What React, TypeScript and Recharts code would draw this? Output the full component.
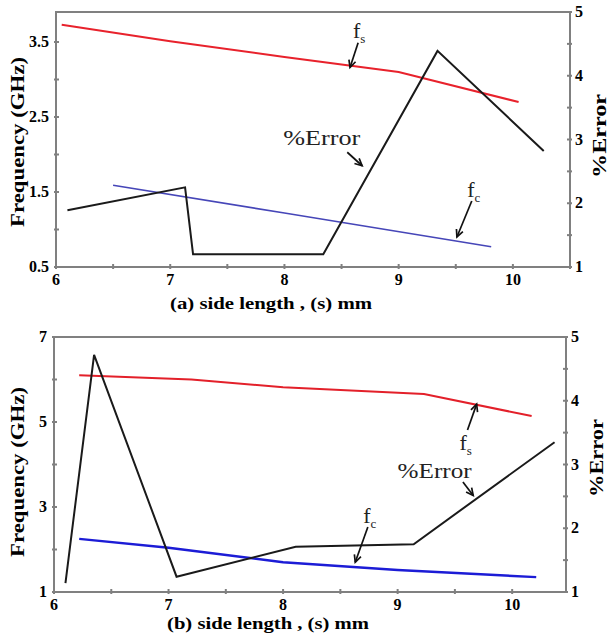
import { LineChart, Line, XAxis, YAxis, ReferenceLine } from "recharts";

// ---- panel (a) ----
const fsA = [
  { x: 6.05, y: 3.73 },
  { x: 7, y: 3.51 },
  { x: 8, y: 3.3 },
  { x: 9, y: 3.1 },
  { x: 10.05, y: 2.7 },
];
const fcA = [
  { x: 6.5, y: 1.59 },
  { x: 8, y: 1.22 },
  { x: 9.81, y: 0.77 },
];
const errA = [
  { x: 6.1, y: 1.89 },
  { x: 7.13, y: 2.25 },
  { x: 7.2, y: 1.2 },
  { x: 8.34, y: 1.2 },
  { x: 9.34, y: 4.39 },
  { x: 10.27, y: 2.82 },
];
const xTicksA = [6, 6.5, 7, 7.5, 8, 8.5, 9, 9.5, 10, 10.5];
const leftTicksA = [0.5, 1, 1.5, 2, 2.5, 3, 3.5];
const leftLabelsA = [0.5, 1.5, 2.5, 3.5];

// ---- panel (b) ----
const fsB = [
  { x: 6.22, y: 6.1 },
  { x: 7.2, y: 6.0 },
  { x: 8, y: 5.82 },
  { x: 9.23, y: 5.66 },
  { x: 10.17, y: 5.14 },
];
const fcB = [
  { x: 6.22, y: 2.25 },
  { x: 7, y: 2.04 },
  { x: 8, y: 1.7 },
  { x: 9, y: 1.52 },
  { x: 10.21, y: 1.35 },
];
const errB = [
  { x: 6.1, y: 1.14 },
  { x: 6.35, y: 4.72 },
  { x: 7.07, y: 1.24 },
  { x: 8.11, y: 1.71 },
  { x: 9.14, y: 1.75 },
  { x: 10.37, y: 3.35 },
];
const xTicksB = [6, 6.5, 7, 7.5, 8, 8.5, 9, 9.5, 10];
const leftTicksB = [1, 2, 3, 4, 5, 6, 7];
const leftLabelsB = [1, 3, 5, 7];

const xLabels = [6, 7, 8, 9, 10];
const rightTicks = [1, 1.5, 2, 2.5, 3, 3.5, 4, 4.5, 5];
const rightLabels = [1, 2, 3, 4, 5];

// tick mark drawn inward + bold label
const makeTick = (side: string, labels: number[]) => (props: any) => {
  const { x, y, payload } = props;
  const txt = labels.includes(payload.value) ? String(payload.value) : "";
  let d = `M${x},${y}H${x - 5}`;
  let tx = x + 3;
  let ty = y + 5;
  let anchor = "start";
  if (side === "bottom") {
    d = `M${x},${y}V${y - 5}`;
    tx = x;
    ty = y + 16;
    anchor = "middle";
  } else if (side === "left") {
    d = `M${x},${y}H${x + 5}`;
    tx = x - 5;
    anchor = "end";
  }
  return (
    <g>
      <path d={d} stroke="#808080" strokeWidth={2} fill="none" />
      <text x={tx} y={ty} textAnchor={anchor} fontFamily="Liberation Serif, serif" fontWeight="bold" fontSize={16} fill="#000">
        {txt}
      </text>
    </g>
  );
};

// plot frame drawn from the two corners of the data window
const Box = (props: any) => {
  const { x1, y1, x2, y2 } = props;
  return (
    <rect
      x={Math.min(x1, x2)}
      y={Math.min(y1, y2)}
      width={Math.abs(x2 - x1)}
      height={Math.abs(y2 - y1)}
      fill="none"
      stroke="#808080"
      strokeWidth={2}
    />
  );
};

const Arrow = (props: any) => {
  const { x1, y1, x2, y2 } = props;
  const a = Math.atan2(y2 - y1, x2 - x1);
  const h = 8;
  const p1 = `${x2 - h * Math.cos(a - 0.45)},${y2 - h * Math.sin(a - 0.45)}`;
  const p2 = `${x2 - h * Math.cos(a + 0.45)},${y2 - h * Math.sin(a + 0.45)}`;
  return (
    <g stroke="#111" strokeWidth={1.7} fill="none">
      <line x1={x1} y1={y1} x2={x2} y2={y2} />
      <polyline points={`${p1} ${x2},${y2} ${p2}`} />
    </g>
  );
};

// annotation text anchored at the segment start point
const note = (text: string, sub?: string, len?: number) => (props: any) => (
  <text
    x={props.x1}
    y={props.y1}
    fontFamily="Liberation Serif, serif"
    fontSize={22}
    fill="#222"
    textLength={len}
    lengthAdjust={len ? "spacingAndGlyphs" : undefined}
  >
    {text}
    {sub && (
      <tspan dy={5} fontSize={13}>
        {sub}
      </tspan>
    )}
  </text>
);

const PanelA = () => (
  <LineChart width={610} height={320} margin={{ top: 12, right: 0, bottom: 10, left: 0 }}>
    <XAxis dataKey="x" type="number" domain={[6, 10.5]} ticks={xTicksA} tick={makeTick("bottom", xLabels)} tickSize={0} height={43} stroke="#808080" />
    <YAxis yAxisId="left" type="number" domain={[0.5, 3.9]} ticks={leftTicksA} tick={makeTick("left", leftLabelsA)} tickSize={0} width={56} stroke="#808080" />
    <YAxis yAxisId="right" orientation="right" type="number" domain={[1, 5]} ticks={rightTicks} tick={makeTick("right", rightLabels)} tickSize={0} width={40} stroke="#808080" />
    <ReferenceLine yAxisId="left" segment={[{ x: 6, y: 0.5 }, { x: 10.5, y: 3.9 }]} shape={Box} />
    <Line yAxisId="left" data={fsA} dataKey="y" type="linear" stroke="#e8222c" strokeWidth={2} dot={false} isAnimationActive={false} />
    <Line yAxisId="left" data={fcA} dataKey="y" type="linear" stroke="#4646b8" strokeWidth={1.6} dot={false} isAnimationActive={false} />
    <Line yAxisId="right" data={errA} dataKey="y" type="linear" stroke="#1a1a1a" strokeWidth={2} dot={false} isAnimationActive={false} />

    <ReferenceLine yAxisId="left" segment={[{ x: 8.6, y: 3.55 }, { x: 8.6, y: 3.55 }]} shape={note("f", "s")} />
    <ReferenceLine yAxisId="left" segment={[{ x: 8.645, y: 3.49 }, { x: 8.574, y: 3.16 }]} shape={Arrow} />
    <ReferenceLine yAxisId="left" segment={[{ x: 7.99, y: 2.13 }, { x: 7.99, y: 2.13 }]} shape={note("%Error", undefined, 77)} />
    <ReferenceLine yAxisId="left" segment={[{ x: 8.55, y: 2.03 }, { x: 8.68, y: 1.85 }]} shape={Arrow} />
    <ReferenceLine yAxisId="left" segment={[{ x: 9.6, y: 1.43 }, { x: 9.6, y: 1.43 }]} shape={note("f", "c")} />
    <ReferenceLine yAxisId="left" segment={[{ x: 9.64, y: 1.38 }, { x: 9.51, y: 0.9 }]} shape={Arrow} />
  </LineChart>
);

const PanelB = () => (
  <LineChart width={610} height={323} margin={{ top: 27, right: 0, bottom: 0, left: 0 }}>
    <XAxis dataKey="x" type="number" domain={[6, 10.47]} ticks={xTicksB} tick={makeTick("bottom", xLabels)} tickSize={0} height={41} stroke="#808080" />
    <YAxis yAxisId="left" type="number" domain={[1, 7]} ticks={leftTicksB} tick={makeTick("left", leftLabelsB)} tickSize={0} width={54} stroke="#808080" />
    <YAxis yAxisId="right" orientation="right" type="number" domain={[1, 5]} ticks={rightTicks} tick={makeTick("right", rightLabels)} tickSize={0} width={44} stroke="#808080" />
    <ReferenceLine yAxisId="left" segment={[{ x: 6, y: 1 }, { x: 10.47, y: 7 }]} shape={Box} />
    <Line yAxisId="left" data={fsB} dataKey="y" type="linear" stroke="#e3202a" strokeWidth={2} dot={false} isAnimationActive={false} />
    <Line yAxisId="left" data={fcB} dataKey="y" type="linear" stroke="#1c1cd6" strokeWidth={2.5} dot={false} isAnimationActive={false} />
    <Line yAxisId="right" data={errB} dataKey="y" type="linear" stroke="#1a1a1a" strokeWidth={2} dot={false} isAnimationActive={false} />

    <ReferenceLine yAxisId="left" segment={[{ x: 9.54, y: 4.34 }, { x: 9.54, y: 4.34 }]} shape={note("f", "s")} />
    <ReferenceLine yAxisId="left" segment={[{ x: 9.61, y: 4.81 }, { x: 9.69, y: 5.42 }]} shape={Arrow} />
    <ReferenceLine yAxisId="left" segment={[{ x: 9.0, y: 3.68 }, { x: 9.0, y: 3.68 }]} shape={note("%Error", undefined, 74)} />
    <ReferenceLine yAxisId="left" segment={[{ x: 9.57, y: 3.59 }, { x: 9.66, y: 3.27 }]} shape={Arrow} />
    <ReferenceLine yAxisId="left" segment={[{ x: 8.7, y: 2.62 }, { x: 8.7, y: 2.62 }]} shape={note("f", "c")} />
    <ReferenceLine yAxisId="left" segment={[{ x: 8.74, y: 2.53 }, { x: 8.63, y: 1.7 }]} shape={Arrow} />
  </LineChart>
);

// axis titles in one overlay so they keep their fixed spots on the figure
const Titles = () => {
  const bold = { fontFamily: "Liberation Serif, serif", fontWeight: "bold", fill: "#000" } as any;
  const vTitle = (text: string, x: number, y: number, len: number) => (
    <text
      x={x}
      y={y}
      transform={`rotate(-90 ${x} ${y})`}
      textAnchor="middle"
      dominantBaseline="central"
      fontSize={18}
      textLength={len}
      lengthAdjust="spacingAndGlyphs"
      {...bold}
    >
      {text}
    </text>
  );
  const hTitle = (text: string, x: number, y: number) => (
    <text x={x} y={y} textAnchor="middle" dominantBaseline="central" fontSize={17} textLength={202} lengthAdjust="spacingAndGlyphs" {...bold}>
      {text}
    </text>
  );
  return (
    <svg width={610} height={633} style={{ position: "absolute", left: 0, top: 0, pointerEvents: "none" }}>
      {vTitle("Frequency (GHz)", 18, 142, 170)}
      {vTitle("%Error", 600, 136, 84)}
      {hTitle("(a) side length , (s) mm", 271, 303)}
      {vTitle("Frequency (GHz)", 18, 472, 170)}
      {vTitle("%Error", 597, 458, 78)}
      {hTitle("(b) side length , (s) mm", 268, 623)}
    </svg>
  );
};

export default function App() {
  return (
    <div style={{ position: "absolute", left: 0, top: 0, width: 610, height: 633, background: "#fff" }}>
      <PanelA />
      <div style={{ marginTop: -10 }}>
        <PanelB />
      </div>
      <Titles />
    </div>
  );
}
